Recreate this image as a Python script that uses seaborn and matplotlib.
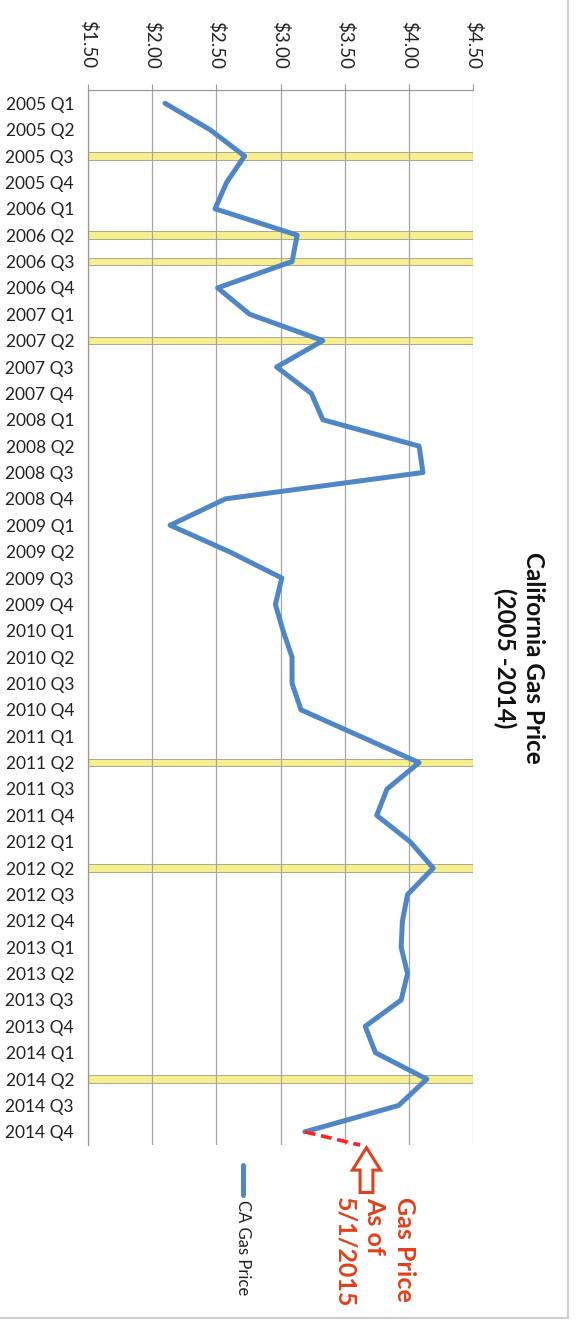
import numpy as np
import pandas as pd
import seaborn as sns
import matplotlib.pyplot as plt
from matplotlib.patches import FancyArrow, Rectangle
from matplotlib.lines import Line2D

# data
years = [2005, 2006, 2007, 2008, 2009, 2010, 2011, 2012, 2013, 2014]
quarters = [f"{y} Q{q}" for y in years for q in (1, 2, 3, 4)]
prices = [2.10, 2.45, 2.72, 2.58,
          2.49, 3.13, 3.09, 2.51,
          2.76, 3.33, 2.97, 3.24,
          3.33, 4.08, 4.11, 2.57,
          2.14, 2.60, 3.01, 2.96,
          3.02, 3.09, 3.09, 3.16,
          3.62, 4.08, 3.83, 3.75,
          4.01, 4.19, 3.99, 3.95,
          3.94, 3.99, 3.94, 3.66,
          3.74, 4.14, 3.92, 3.19]
highlight_quarters = ['2005 Q3', '2006 Q2', '2006 Q3', '2007 Q2', '2011 Q2', '2012 Q2', '2014 Q2']
band_extent = 4.50
may_2015_price = 3.62
price_ticks = [1.50, 2.00, 2.50, 3.00, 3.50, 4.00, 4.50]

# style
sns.set_style('white')
plt.rcParams['font.family'] = ['Lato', 'DejaVu Sans']

blue = '#4f86c6'
red_text = '#e0401a'

fig = plt.figure(figsize=(5.76, 13.21), dpi=100)
ax = fig.add_axes([0.1528, 0.1332, 0.6684, 0.7986])

# yellow highlight bands
bands = pd.DataFrame({'quarter': highlight_quarters, 'value': [band_extent] * len(highlight_quarters)})
sns.barplot(data=bands, x='value', y='quarter', order=quarters, orient='h', width=0.28,
            color='#f7ef8f', saturation=1, edgecolor='#a9a98c', linewidth=0.7, ax=ax, zorder=0.4)

# gas price line
pos = np.arange(len(quarters))
sns.lineplot(x=prices, y=pos, orient='y', sort=False, color=blue, linewidth=3.6,
             legend=False, ax=ax, zorder=3)

# dashed extension to current price
ax.plot([prices[-1], may_2015_price], [pos[-1], pos[-1] + 0.5], color='#ff2020',
        linewidth=2.6, linestyle=(0, (3, 1.6)), clip_on=False, zorder=3)

# hollow arrow
ax.add_patch(FancyArrow(may_2015_price + 0.05, pos[-1] + 2.3, 0, -1.7, width=0.10,
                        head_width=0.22, head_length=0.85, length_includes_head=True,
                        facecolor='white', edgecolor=red_text, linewidth=2.2, clip_on=False))

ax.set_xlim(1.5, 4.5)
ax.set_ylim(len(quarters) - 0.5, -0.5)

# x axis on top
ax.xaxis.tick_top()
ax.set_xticks(price_ticks)
ax.set_xticklabels([f"${p:.2f}" for p in price_ticks], rotation=-90, fontsize=13.5, color='#222222')
ax.tick_params(axis='x', length=4.5, color='#999999', pad=11, direction='out')
ax.xaxis.grid(True, color='#a6a6a6', linewidth=0.9)
ax.yaxis.grid(False)
ax.set_xlabel('')
ax.set_ylabel('')

# category axis
ax.set_yticks(pos)
ax.set_yticklabels(quarters, fontsize=12.5, color='#222222')
ax.set_yticks(np.arange(len(quarters) + 1) - 0.5, minor=True)
ax.tick_params(axis='y', which='major', length=0, pad=10)
ax.tick_params(axis='y', which='minor', length=6, color='#999999', width=0.9, direction='out')

for s in ['bottom', 'right']:
    ax.spines[s].set_visible(False)
for s in ['left', 'top']:
    ax.spines[s].set_color('#999999')
    ax.spines[s].set_linewidth(0.9)

# title
fig.text(0.901, 0.502, 'California Gas Price\n(2005 -2014)', rotation=-90, fontsize=17.5,
         fontweight='bold', ha='center', va='center', multialignment='center', color='#111111',
         linespacing=1.3)

# annotation
fig.text(0.651, 1 - 1197 / 1321, 'Gas Price\nAs of\n5/1/2015', rotation=-90, fontsize=18,
         fontweight='bold', ha='center', va='top', multialignment='left', color=red_text,
         linespacing=1.35)

# legend
fig.add_artist(Line2D([243 / 576, 243 / 576], [1 - 1165 / 1321, 1 - 1195 / 1321],
                      color=blue, linewidth=3.6, transform=fig.transFigure))
fig.text(243 / 576, 1 - 1200 / 1321, 'CA Gas Price', rotation=-90, fontsize=12,
         ha='center', va='top', color='#222222')

# chart border
fig.add_artist(Rectangle((-0.01, 1 - 1318 / 1321), 568 / 576 + 0.01, 1.02, fill=False,
                         edgecolor='#cfcfcf', linewidth=1.5, transform=fig.transFigure))

fig.savefig('out.png', dpi=100)
